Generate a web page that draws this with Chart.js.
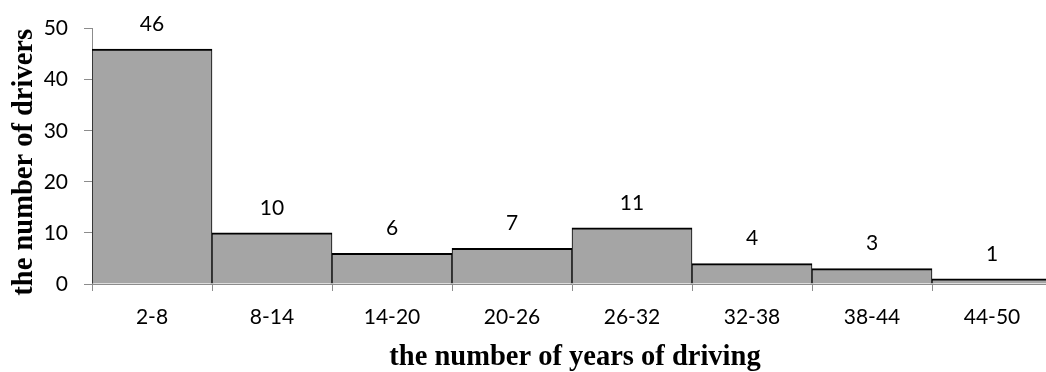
<!DOCTYPE html>
<html>
<head>
<meta charset="utf-8">
<script src="https://cdn.jsdelivr.net/npm/chart.js@4"></script>
<style>
html,body{margin:0;padding:0;overflow:hidden;background:#fff;width:1046px;height:372px;}
#wrap{position:absolute;left:0;top:0;width:1060px;height:372px;}
</style>
</head>
<body>
<div id="wrap"><canvas id="c" width="1060" height="372"></canvas></div>
<script>
const categories = ['2-8','8-14','14-20','20-26','26-32','32-38','38-44','44-50'];
const drivers = [46, 10, 6, 7, 11, 4, 3, 1];
const yTicks = [0, 10, 20, 30, 40, 50];
const xTitle = 'the number of years of driving';
const yTitle = 'the number of drivers';

const labelFont = {family: 'Lato', size: 21};
const titleFontCss = 'bold 28.5px "Liberation Serif", "Times New Roman", serif';
const axisGray = '#8c8c8c';

const valueLabels = {
  id: 'valueLabels',
  afterDatasetsDraw(chart) {
    const ctx = chart.ctx;
    const meta = chart.getDatasetMeta(0);
    ctx.save();
    ctx.fillStyle = '#000';
    ctx.font = labelFont.size + 'px ' + labelFont.family;
    ctx.textAlign = 'center';
    ctx.textBaseline = 'middle';
    meta.data.forEach((bar, i) => {
      ctx.fillText(String(drivers[i]), bar.x, bar.y - 25);
    });
    ctx.restore();
  }
};

const axisTitles = {
  id: 'axisTitles',
  afterDraw(chart) {
    const ctx = chart.ctx;
    const a = chart.chartArea;
    ctx.save();
    ctx.fillStyle = '#000';
    ctx.font = titleFontCss;
    ctx.textAlign = 'center';
    ctx.textBaseline = 'alphabetic';
    // x-axis title
    ctx.fillText(xTitle, (a.left + a.right) / 2 + 3, 365);
    // y-axis title (rotated)
    ctx.translate(32, (a.top + a.bottom) / 2 + 6);
    ctx.rotate(-Math.PI / 2);
    ctx.fillText(yTitle, 0, 0);
    ctx.restore();
  }
};

new Chart(document.getElementById('c'), {
  type: 'bar',
  data: {
    labels: categories,
    datasets: [{
      data: drivers,
      backgroundColor: '#a5a5a5',
      borderColor: '#000',
      borderWidth: {top: 2, left: 1, right: 1, bottom: 0},
      borderSkipped: 'start',
      barPercentage: 1,
      categoryPercentage: 1
    }]
  },
  options: {
    responsive: false,
    animation: false,
    layout: {padding: {left: 0, right: 8, top: 24, bottom: 0}},
    plugins: {legend: {display: false}, tooltip: {enabled: false}},
    scales: {
      x: {
        grid: {drawOnChartArea: false, drawTicks: true, tickLength: 7, tickColor: axisGray, offset: true},
        border: {color: axisGray, width: 1},
        ticks: {color: '#000', font: labelFont, padding: 14, maxRotation: 0},
        title: {display: false},
        afterFit(scale) { scale.height = 88; }
      },
      y: {
        min: 0, max: 50,
        afterBuildTicks(scale) { scale.ticks = yTicks.map(v => ({value: v})); },
        grid: {drawOnChartArea: false, drawTicks: true, tickLength: 8, tickColor: axisGray},
        border: {color: axisGray, width: 1},
        ticks: {color: '#000', font: labelFont, padding: 16},
        title: {display: false},
        afterFit(scale) { scale.width = 92; }
      }
    }
  },
  plugins: [valueLabels, axisTitles]
});
</script>
</body>
</html>
